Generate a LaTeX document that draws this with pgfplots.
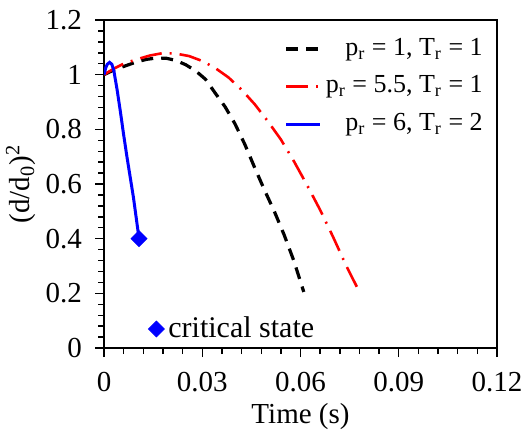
\documentclass[border=0pt]{standalone}
\usepackage{fontspec}
\setmainfont{Liberation Serif}
\usepackage{pgfplots}
\pgfplotsset{compat=1.18}
\usetikzlibrary{calc}

\pgfplotsset{
  base/.style={
    scale only axis,
    width=196.5pt, height=164pt,
    xmin=0, xmax=0.12, ymin=0, ymax=1.2,
  },
}

\begin{document}
\fontsize{14.5pt}{17pt}\selectfont
\begin{tikzpicture}
\begin{axis}[
  base,
  name=main,
  axis line style={line width=0.8pt},
  /pgf/number format/assume math mode=true,
  xtick={0,0.03,0.06,0.09,0.12},
  ytick={0,0.2,0.4,0.6,0.8,1,1.2},
  minor x tick num=4,
  minor y tick num=4,
  scaled x ticks=false,
  xticklabel style={/pgf/number format/fixed, /pgf/number format/precision=2, yshift=-2.5pt},
  yticklabel style={/pgf/number format/fixed, /pgf/number format/precision=1, xshift=-1.5pt},
  tick pos=left,
  tick align=outside,
  major tick length=4.5pt,
  minor tick length=3pt,
  every tick/.style={black, line width=0.7pt},
  xlabel={Time (s)},
  ylabel={(d/d\textsubscript{0})\textsuperscript{2}},
  xlabel style={yshift=4pt},
  ylabel style={yshift=-5pt},
  legend style={draw=none, fill=none, at={(0.99,0.97)}, anchor=north east,
    row sep=4pt, font=\fontsize{13pt}{15pt}\selectfont},
  legend cell align=right,
]
\addplot[black, line width=1.6pt, dash pattern=on 6pt off 4pt] coordinates {
  (0,1.000) (0.003,1.017) (0.006,1.030) (0.010,1.047) (0.013,1.056)
  (0.016,1.061) (0.019,1.060) (0.022,1.052) (0.025,1.036) (0.028,1.014)
  (0.031,0.983) (0.034,0.932) (0.037,0.882) (0.040,0.820) (0.043,0.745)
  (0.046,0.660) (0.049,0.578) (0.052,0.500) (0.055,0.414) (0.058,0.318)
  (0.061,0.205)
};
\addlegendentry{p\textsubscript{r} = 1, T\textsubscript{r} = 1}
\addplot[red, line width=1.3pt, dash pattern=on 11pt off 4pt on 1pt off 4pt] coordinates {
  (0,1.000) (0.003,1.022) (0.006,1.040) (0.010,1.056) (0.014,1.070)
  (0.018,1.079) (0.022,1.077) (0.026,1.068) (0.030,1.050) (0.034,1.024)
  (0.038,0.990) (0.042,0.945) (0.046,0.892) (0.050,0.830) (0.054,0.763)
  (0.058,0.683) (0.062,0.596) (0.066,0.505) (0.070,0.405) (0.074,0.300)
  (0.078,0.205)
};
\addlegendentry{p\textsubscript{r} = 5.5, T\textsubscript{r} = 1}
\addplot[blue, line width=1.5pt] coordinates {
  (0,1.000) (0.0005,1.024) (0.001,1.038) (0.0017,1.045) (0.0024,1.038)
  (0.003,1.015) (0.004,0.945) (0.005,0.865) (0.006,0.780) (0.007,0.700)
  (0.008,0.625) (0.009,0.550) (0.0107,0.400)
};
\addlegendentry{p\textsubscript{r} = 6, T\textsubscript{r} = 2}
\end{axis}
\begin{axis}[
  base,
  hide axis,
  legend style={draw=none, fill=none, at={(0.097,-0.006)}, anchor=south west,
    font=\fontsize{15pt}{17pt}\selectfont},
]
\addplot[only marks, blue, mark=square*, mark size=2.8pt, mark options={rotate=45}]
  coordinates {(0.0107,0.400)};
\addlegendentry{critical state}
\end{axis}
\pgfresetboundingbox
\path ($(main.south west)+(-52pt,-40.5pt)$) rectangle ($(main.north east)+(13pt,10pt)$);
\end{tikzpicture}
\end{document}
